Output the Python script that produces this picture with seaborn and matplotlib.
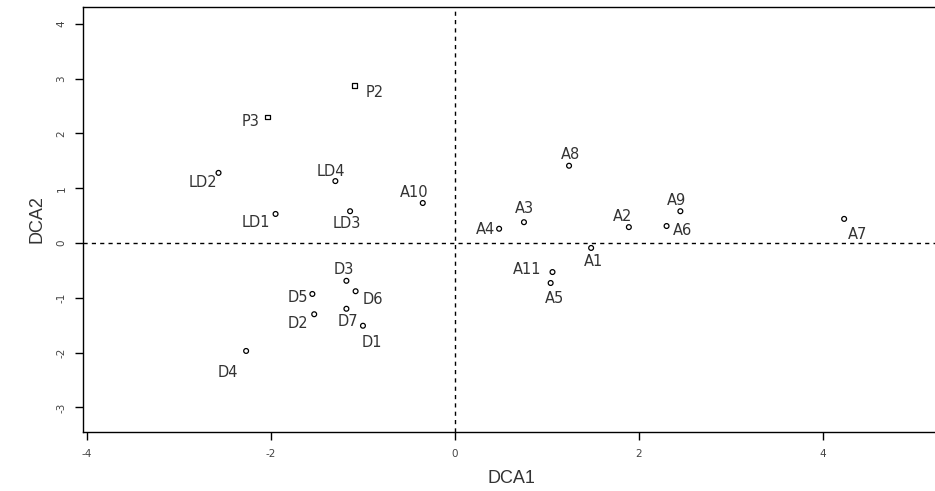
import numpy as np
import pandas as pd
import matplotlib
matplotlib.use("Agg")
import matplotlib.pyplot as plt
import seaborn as sns

# DCA site scores
sites = ["P2", "P3", "LD2", "LD4", "A10", "LD1", "LD3",
         "D3", "D6", "D5", "D2", "D7", "D1", "D4",
         "A8", "A3", "A4", "A2", "A9", "A6", "A1", "A11", "A5", "A7"]
dca1 = [-1.09, -2.04, -2.57, -1.30, -0.35, -1.95, -1.14,
        -1.18, -1.08, -1.55, -1.53, -1.18, -1.00, -2.27,
        1.24, 0.75, 0.48, 1.89, 2.45, 2.30, 1.48, 1.06, 1.04, 4.23]
dca2 = [2.87, 2.30, 1.28, 1.13, 0.73, 0.53, 0.58,
        -0.69, -0.88, -0.93, -1.30, -1.20, -1.51, -1.97,
        1.41, 0.38, 0.26, 0.29, 0.58, 0.31, -0.09, -0.53, -0.73, 0.44]
group = ["P", "P", "LD", "LD", "A", "LD", "LD",
         "D", "D", "D", "D", "D", "D", "D",
         "A", "A", "A", "A", "A", "A", "A", "A", "A", "A"]

df = pd.DataFrame({"site": sites, "DCA1": dca1, "DCA2": dca2, "group": group})

# label offsets in pixels (layout only)
offsets = {"P2": (20, -7), "P3": (-17, -5), "LD2": (-16, -10), "LD4": (-4, 10),
           "A10": (-9, 11), "LD1": (-20, -9), "LD3": (-3, -12), "D3": (-3, 11),
           "D6": (17, -8), "D5": (-14, -4), "D2": (-16, -9), "D7": (2, -13),
           "D1": (9, -17), "D4": (-18, -22), "A8": (1, 11), "A3": (0, 14),
           "A4": (-14, -1), "A2": (-6, 11), "A9": (-4, 11), "A6": (16, -4),
           "A1": (2, -14), "A11": (-25, 3), "A5": (4, -15), "A7": (13, -16)}

sns.set_style("white")
plt.rcParams['font.family'] = ['DejaVu Sans']
plt.rcParams['axes.unicode_minus'] = False

fig = plt.figure(figsize=(9.35, 4.91), dpi=100)
ax = fig.add_axes([83/935, (491-432)/491, (940-83)/935, (432-7)/491])

sns.scatterplot(data=df, x="DCA1", y="DCA2", style="group",
                markers={"P": "s", "LD": "o", "D": "o", "A": "o"},
                s=12, facecolor="white", edgecolor="black", linewidth=0.9,
                legend=False, ax=ax, zorder=3)

for _, r in df.iterrows():
    dx, dy = offsets[r["site"]]
    ax.annotate(r["site"], (r["DCA1"], r["DCA2"]), xytext=(dx, dy),
                textcoords="offset pixels", ha="center", va="center",
                fontsize=10.5, color="#333333")

ax.axhline(0, color="black", lw=1, ls=(0, (3, 3)), zorder=1)
ax.axvline(0, color="black", lw=1, ls=(0, (3, 3)), zorder=1)

ax.set_xlim(-4.043, 5.272)
ax.set_ylim(-3.449, 4.307)
ax.set_xticks([-4, -2, 0, 2, 4])
ax.set_yticks([-3, -2, -1, 0, 1, 2, 3, 4])
ax.set_yticklabels(["-3", "-2", "-1", "0", "1", "2", "3", "4"],
                   rotation=90, va="center")
ax.tick_params(direction="out", length=6, width=1, labelsize=7.5,
               colors="black", labelcolor="#444444", pad=6,
               bottom=True, left=True)
for sp in ax.spines.values():
    sp.set_color("black")
    sp.set_linewidth(1)
ax.spines["right"].set_visible(False)

ax.set_xlabel("DCA1", fontsize=13, color="#333333",
              family=["Liberation Sans"], labelpad=8)
ax.set_ylabel("DCA2", fontsize=13, color="#333333",
              family=["Liberation Sans"], labelpad=8)

fig.savefig("out.png", dpi=100)
